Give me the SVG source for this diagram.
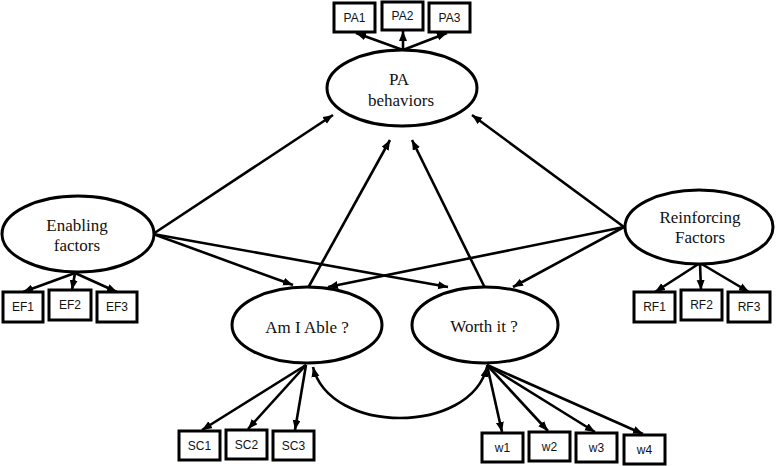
<svg xmlns="http://www.w3.org/2000/svg" width="777" height="466" viewBox="0 0 777 466">
<defs>
<marker id="ah" markerUnits="userSpaceOnUse" markerWidth="11" markerHeight="9" refX="10" refY="4" orient="auto-start-reverse">
<path d="M0,0 L10,4 L0,8 z" fill="#000"/>
</marker>
<style>
.lat{fill:#fff;stroke:#000;stroke-width:3}
.box{fill:#fff;stroke:#000;stroke-width:3}
.lt{font-family:"Liberation Serif","Times New Roman",serif;font-size:17px;fill:#111;text-anchor:middle}
.bt{font-family:"Liberation Sans",Arial,sans-serif;font-size:12px;fill:#111;text-anchor:middle}
.ar{fill:none;stroke:#000;stroke-width:2.6;marker-end:url(#ah)}
</style>
</defs>
<rect width="777" height="466" fill="#fff"/>
<g id="connectors">
<line class="ar" x1="403" y1="50" x2="356" y2="33"/>
<line class="ar" x1="403" y1="50" x2="403" y2="31"/>
<line class="ar" x1="403" y1="50" x2="447" y2="33"/>
<line class="ar" x1="75" y1="273" x2="23" y2="292"/>
<line class="ar" x1="75" y1="273" x2="72" y2="290"/>
<line class="ar" x1="75" y1="273" x2="117" y2="292"/>
<line class="ar" x1="700" y1="263" x2="655" y2="292"/>
<line class="ar" x1="700" y1="263" x2="701" y2="290"/>
<line class="ar" x1="700" y1="263" x2="749" y2="292"/>
<line class="ar" x1="306" y1="365" x2="202" y2="430"/>
<line class="ar" x1="306" y1="365" x2="248" y2="429"/>
<line class="ar" x1="306" y1="365" x2="295" y2="430"/>
<line class="ar" x1="487" y1="365" x2="502" y2="432"/>
<line class="ar" x1="487" y1="365" x2="548" y2="431"/>
<line class="ar" x1="487" y1="365" x2="595" y2="432"/>
<line class="ar" x1="487" y1="365" x2="643" y2="434"/>
<line class="ar" x1="153" y1="234" x2="333" y2="115"/>
<line class="ar" x1="308" y1="288" x2="390" y2="140"/>
<line class="ar" x1="485" y1="288" x2="412" y2="140"/>
<line class="ar" x1="624" y1="227" x2="472" y2="115"/>
<line class="ar" x1="624" y1="227" x2="328" y2="287"/>
<line class="ar" x1="624" y1="227" x2="513" y2="287"/>
<line class="ar" x1="153" y1="234" x2="293" y2="285"/>
<line class="ar" x1="153" y1="234" x2="448" y2="287"/>
<path class="ar" d="M487,367 C470,435 330,435 313,367" style="marker-start:url(#ah)"/>
</g>
<g id="pa"><ellipse class="lat" cx="402" cy="88" rx="75" ry="38"/><text class="lt" x="399" y="85">PA</text><text class="lt" x="401" y="106">behaviors</text></g>
<g id="enabling"><ellipse class="lat" cx="78" cy="234" rx="76" ry="38"/><text class="lt" x="77" y="231">Enabling</text><text class="lt" x="77" y="251">factors</text></g>
<g id="reinforcing"><ellipse class="lat" cx="699" cy="227" rx="74" ry="37"/><text class="lt" x="700" y="223">Reinforcing</text><text class="lt" x="700" y="243">Factors</text></g>
<g id="able"><ellipse class="lat" cx="307" cy="325" rx="75" ry="38"/><text class="lt" x="307" y="333">Am I Able ?</text></g>
<g id="worth"><ellipse class="lat" cx="485" cy="325" rx="73" ry="38"/><text class="lt" x="484" y="332">Worth it ?</text></g>
<g id="PA1"><rect class="box" x="334" y="3" width="41" height="29"/><text class="bt" x="354.5" y="22">PA1</text></g>
<g id="PA2"><rect class="box" x="382" y="2" width="41" height="28"/><text class="bt" x="402.5" y="20">PA2</text></g>
<g id="PA3"><rect class="box" x="429" y="3" width="41" height="29"/><text class="bt" x="449.5" y="22">PA3</text></g>
<g id="EF1"><rect class="box" x="3" y="292" width="40" height="30"/><text class="bt" x="23" y="311">EF1</text></g>
<g id="EF2"><rect class="box" x="49" y="290" width="42" height="30"/><text class="bt" x="70" y="309">EF2</text></g>
<g id="EF3"><rect class="box" x="97" y="292" width="40" height="30"/><text class="bt" x="117" y="311">EF3</text></g>
<g id="RF1"><rect class="box" x="634" y="292" width="41" height="30"/><text class="bt" x="654.5" y="311">RF1</text></g>
<g id="RF2"><rect class="box" x="681" y="290" width="41" height="30"/><text class="bt" x="701.5" y="309">RF2</text></g>
<g id="RF3"><rect class="box" x="728" y="292" width="42" height="30"/><text class="bt" x="749" y="311">RF3</text></g>
<g id="SC1"><rect class="box" x="179" y="431" width="41" height="29"/><text class="bt" x="199.5" y="450">SC1</text></g>
<g id="SC2"><rect class="box" x="226" y="430" width="41" height="29"/><text class="bt" x="246.5" y="449">SC2</text></g>
<g id="SC3"><rect class="box" x="273" y="431" width="41" height="29"/><text class="bt" x="293.5" y="450">SC3</text></g>
<g id="w1"><rect class="box" x="482" y="433" width="41" height="29"/><text class="bt" x="502.5" y="452">w1</text></g>
<g id="w2"><rect class="box" x="529" y="432" width="41" height="29"/><text class="bt" x="549.5" y="451">w2</text></g>
<g id="w3"><rect class="box" x="576" y="433" width="41" height="29"/><text class="bt" x="596.5" y="452">w3</text></g>
<g id="w4"><rect class="box" x="624" y="435" width="41" height="29"/><text class="bt" x="644.5" y="454">w4</text></g>
</svg>
